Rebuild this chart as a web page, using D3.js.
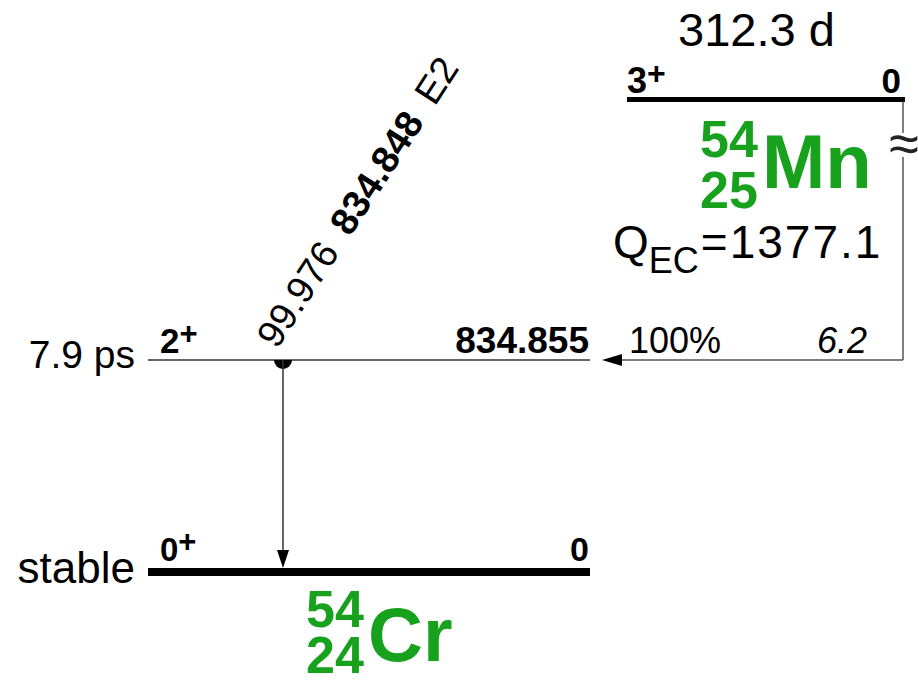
<!DOCTYPE html>
<html>
<head>
<meta charset="utf-8">
<script src="https://cdn.jsdelivr.net/npm/d3@7"></script>
<style>
  html, body { margin: 0; padding: 0; background: #fff; }
  svg { display: block; }
  text { font-family: "Liberation Sans", Arial, Helvetica, sans-serif; }
</style>
</head>
<body>
<div id="chart"></div>
<script>
// ---------------- data ----------------
// daughter (54Cr) levels
const levelEnergies = [0, 834.855];
const levelLabels = ["0", "834.855"];
const levelSpins = ["0", "2"];
const levelParities = ["+", "+"];
const levelHalfLives = ["stable", "7.9 ps"];
// parent (54Mn)
const parentSpin = "3";
const parentParity = "+";
const parentEnergyLabel = "0";
const parentHalfLife = "312.3 d";
const qEC = "1377.1";
// EC branch feeding the 834.855 level
const branchIntensity = "100%";
const branchLogft = "6.2";
const branchToLevel = 834.855;
// gamma transition
const gammaFrom = [834.855];
const gammaTo = [0];
const gammaIntensities = ["99.976"];
const gammaEnergies = ["834.848"];
const gammaMultipolarities = ["E2"];
// nuclide labels
const parentNuclide = { A: "54", Z: "25", sym: "Mn" };
const daughterNuclide = { A: "54", Z: "24", sym: "Cr" };

// ---------------- layout ----------------
const W = 918, H = 684;
const green = "#17a11d";
const svg = d3.select("#chart").append("svg").attr("width", W).attr("height", H);

// energy scale for daughter levels
const y = d3.scaleLinear().domain([0, 834.855]).range([572, 360]);
// horizontal extents
const dX = d3.scaleLinear().domain([0, 1]).range([148, 590]);
const pX = d3.scaleLinear().domain([0, 1]).range([627, 905]);
const parentY = 99.5; // parent drawn above a scale break

// ---- daughter levels ----
levelEnergies.forEach((e, i) => {
  const ground = e === 0;
  const yy = y(e);
  svg.append("line")
    .attr("x1", dX(0)).attr("x2", dX(1))
    .attr("y1", yy).attr("y2", yy)
    .attr("stroke", ground ? "#000" : "#666")
    .attr("stroke-width", ground ? 8 : 2);
  // spin/parity
  const sp = svg.append("text").attr("x", 160).attr("y", yy - (ground ? 11 : 7))
    .attr("font-weight", "bold").attr("font-size", ground ? 33 : 35).text(levelSpins[i]);
  sp.append("tspan").attr("font-size", 31).attr("dy", -9).text(levelParities[i]);
  // energy
  svg.append("text").attr("x", 589).attr("y", yy - (ground ? 11 : 7))
    .attr("text-anchor", "end").attr("font-weight", "bold")
    .attr("font-size", ground ? 34 : 37).text(levelLabels[i]);
  // half-life
  svg.append("text").attr("x", 135).attr("y", yy + (ground ? 11 : 8))
    .attr("text-anchor", "end")
    .attr("font-size", ground ? 44 : 39).text(levelHalfLives[i]);
});

// ---- parent level ----
svg.append("line")
  .attr("x1", pX(0)).attr("x2", pX(1))
  .attr("y1", parentY).attr("y2", parentY)
  .attr("stroke", "#000").attr("stroke-width", 5);
const psp = svg.append("text").attr("x", 627).attr("y", parentY - 6.5)
  .attr("font-weight", "bold").attr("font-size", 36).text(parentSpin);
psp.append("tspan").attr("font-size", 32).attr("dy", -9).text(parentParity);
svg.append("text").attr("x", 901).attr("y", parentY - 6.5)
  .attr("text-anchor", "end").attr("font-weight", "bold").attr("font-size", 35)
  .text(parentEnergyLabel);
svg.append("text").attr("x", 678).attr("y", 46)
  .attr("font-size", 47).text(parentHalfLife);

// ---- EC branch line (vertical with break, then horizontal arrow) ----
const bx = 903, by = y(branchToLevel);
svg.append("line").attr("x1", bx).attr("x2", bx).attr("y1", parentY + 2).attr("y2", 133)
  .attr("stroke", "#555").attr("stroke-width", 1.5);
svg.append("line").attr("x1", bx).attr("x2", bx).attr("y1", 157).attr("y2", by)
  .attr("stroke", "#555").attr("stroke-width", 1.5);
svg.append("text").attr("x", bx + 1).attr("y", 162).attr("text-anchor", "middle")
  .attr("font-size", 54).attr("fill", "#222").text("\u2248");
svg.append("line").attr("x1", bx).attr("x2", 620).attr("y1", by).attr("y2", by)
  .attr("stroke", "#555").attr("stroke-width", 1.5);
svg.append("path")
  .attr("d", `M602,${by} L622,${by - 6} L622,${by + 6} Z`).attr("fill", "#000");
svg.append("text").attr("x", 629).attr("y", by - 7.5)
  .attr("font-size", 36).text(branchIntensity);
svg.append("text").attr("x", 867).attr("y", by - 7.5).attr("text-anchor", "end")
  .attr("font-style", "italic").attr("font-size", 36).text(branchLogft);

// ---- Q value ----
const q = svg.append("text").attr("x", 613).attr("y", 258).attr("font-size", 46);
q.append("tspan").text("Q");
q.append("tspan").attr("font-size", 36).attr("dy", 15).text("EC");
q.append("tspan").attr("dy", -15).attr("dx", 2).attr("letter-spacing", 2).text("=" + qEC);

// ---- gamma ----
gammaFrom.forEach((ef, i) => {
  const gx = 283;
  const y1 = y(ef), y2 = y(gammaTo[i]) - 4;
  svg.append("path")
    .attr("d", `M${gx - 9},${y1} A9,9 0 0 0 ${gx + 9},${y1} Z`).attr("fill", "#000");
  svg.append("line").attr("x1", gx).attr("x2", gx).attr("y1", y1).attr("y2", y2 - 14)
    .attr("stroke", "#333").attr("stroke-width", 1.5);
  svg.append("path")
    .attr("d", `M${gx},${y2} L${gx - 6},${y2 - 18} L${gx + 6},${y2 - 18} Z`).attr("fill", "#000");
  const t = svg.append("text")
    .attr("transform", `translate(277,350) rotate(-57)`)
    .attr("font-size", 38);
  t.append("tspan").text(gammaIntensities[i]);
  t.append("tspan").attr("dx", 18).attr("font-weight", "bold").text(gammaEnergies[i]);
  t.append("tspan").attr("dx", 18).text(gammaMultipolarities[i]);
});

// ---- nuclide labels (one text each: mass number, atomic number, symbol) ----
function nuclide(n, x, yA, yZ, xs, ys) {
  const t = svg.append("text").attr("fill", green).attr("font-weight", "bold");
  t.append("tspan").attr("x", x).attr("y", yA).attr("font-size", 52).text(n.A);
  t.append("tspan").attr("x", x).attr("y", yZ).attr("font-size", 52).text(n.Z);
  t.append("tspan").attr("x", xs).attr("y", ys).attr("font-size", 76).text(n.sym);
}
nuclide(parentNuclide, 700, 157, 208, 762, 188);
nuclide(daughterNuclide, 306, 627, 673, 368, 661);
</script>
</body>
</html>
